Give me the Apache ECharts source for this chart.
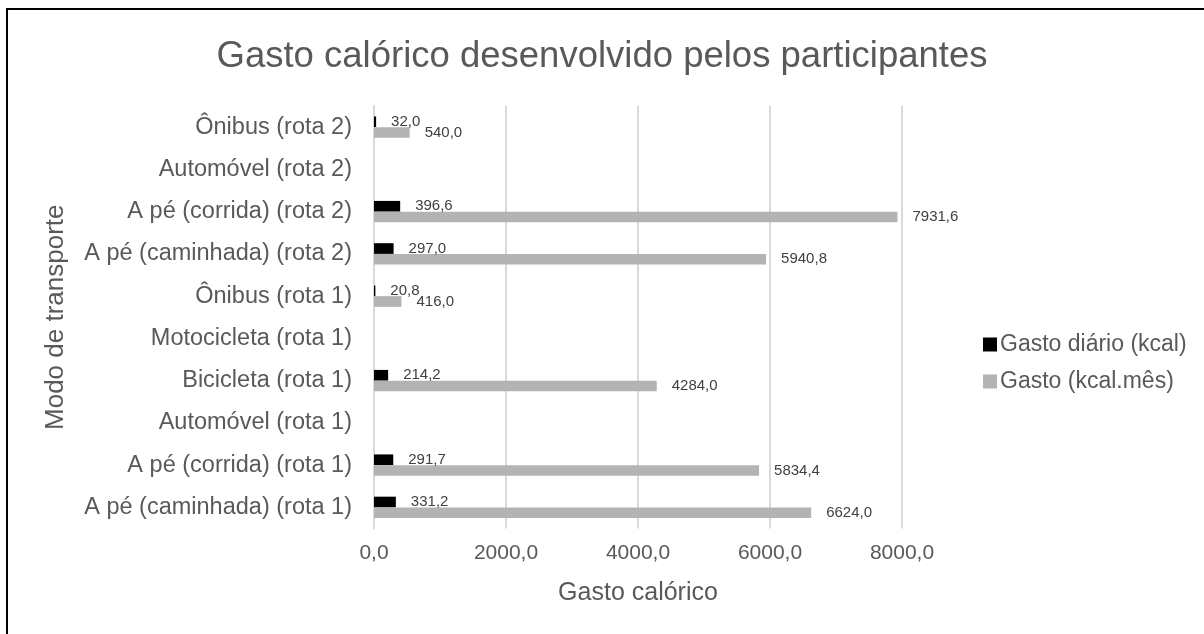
<!DOCTYPE html>
<html>
<head>
<meta charset="utf-8">
<script src="https://cdn.jsdelivr.net/npm/echarts@6/dist/echarts.min.js"></script>
<style>
html,body{margin:0;padding:0;background:#fff;}
#chart{width:1204px;height:634px;}
</style>
</head>
<body>
<div id="chart"></div>
<script>
const categories = [
  'A pé (caminhada) (rota 1)',
  'A pé (corrida) (rota 1)',
  'Automóvel (rota 1)',
  'Bicicleta (rota 1)',
  'Motocicleta (rota 1)',
  'Ônibus (rota 1)',
  'A pé (caminhada) (rota 2)',
  'A pé (corrida) (rota 2)',
  'Automóvel (rota 2)',
  'Ônibus (rota 2)'
];
const gastoDiario = [331.2, 291.7, null, 214.2, null, 20.8, 297.0, 396.6, null, 32.0];
const gastoMes = [6624.0, 5834.4, null, 4284.0, null, 416.0, 5940.8, 7931.6, null, 540.0];
const seriesNames = ['Gasto diário (kcal)', 'Gasto (kcal.mês)'];
const xTicks = { min: 0, max: 8000, interval: 2000 };

const fmt = v => Number(v).toFixed(1).replace('.', ',');
const font = 'Liberation Sans, Arial, sans-serif';

const chart = echarts.init(document.getElementById('chart'));
chart.setOption({
  animation: false,
  backgroundColor: '#ffffff',
  textStyle: { fontFamily: font },
  title: {
    text: 'Gasto calórico desenvolvido pelos participantes',
    left: 'center',
    top: 33,
    textStyle: { fontFamily: font, fontSize: 36.5, fontWeight: 'normal', color: '#595959' }
  },
  graphic: [{
    type: 'rect',
    shape: { x: 7, y: 9, width: 1400, height: 800 },
    style: { fill: 'none', stroke: '#000', lineWidth: 2 },
    silent: true
  }],
  legend: {
    orient: 'vertical',
    left: 978,
    top: 328,
    itemWidth: 14,
    itemHeight: 14,
    itemGap: 14,
    icon: 'rect',
    data: seriesNames,
    textStyle: { fontFamily: font, fontSize: 23, lineHeight: 23, color: '#595959', padding: [0, 0, 0, -2] }
  },
  grid: { left: 374, right: 302, top: 106, bottom: 634 - 528.5, containLabel: false },
  xAxis: {
    type: 'value',
    min: xTicks.min, max: xTicks.max, interval: xTicks.interval,
    name: 'Gasto calórico',
    nameLocation: 'middle',
    nameGap: 52,
    nameTextStyle: { fontFamily: font, fontSize: 25, color: '#595959' },
    axisLine: { show: false },
    axisTick: { show: false },
    axisLabel: { formatter: fmt, fontFamily: font, fontSize: 21, color: '#595959', margin: 14 },
    splitLine: { show: true, lineStyle: { color: '#d9d9d9', width: 2 } }
  },
  yAxis: {
    type: 'category',
    data: categories,
    name: 'Modo de transporte',
    nameLocation: 'middle',
    nameRotate: 90,
    nameGap: 305,
    nameTextStyle: { fontFamily: font, fontSize: 26, color: '#595959' },
    axisLine: { show: true, lineStyle: { color: '#d9d9d9', width: 2 } },
    axisTick: { show: false },
    axisLabel: { fontFamily: font, fontSize: 23.5, color: '#595959', margin: 22 },
    splitLine: { show: false }
  },
  series: [
    {
      name: seriesNames[0],
      type: 'bar',
      data: gastoDiario,
      barWidth: 10.7,
      barGap: '0%',
      itemStyle: { color: '#000000' },
      label: { show: true, position: 'right', distance: 15, formatter: p => fmt(p.value), fontFamily: font, fontSize: 15, color: '#404040' }
    },
    {
      name: seriesNames[1],
      type: 'bar',
      data: gastoMes,
      barWidth: 10.7,
      barGap: '0%',
      itemStyle: { color: '#b3b3b3' },
      label: { show: true, position: 'right', distance: 15, formatter: p => fmt(p.value), fontFamily: font, fontSize: 15, color: '#404040' }
    }
  ]
});
</script>
</body>
</html>
